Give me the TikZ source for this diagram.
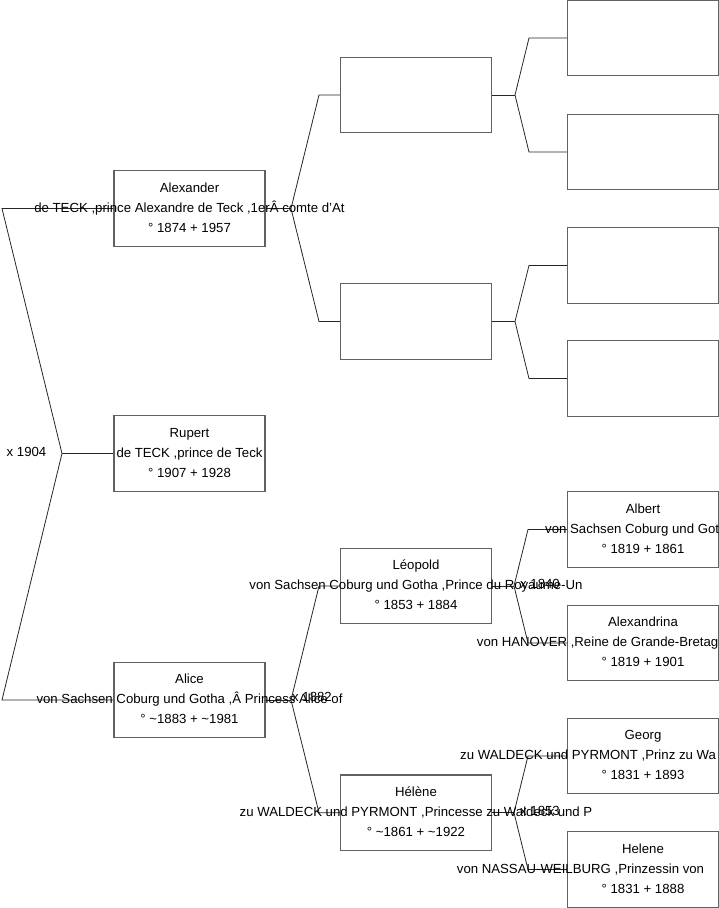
\documentclass[tikz,border=0pt]{standalone}
\usepackage{fontspec}
\setmainfont{Liberation Sans}
\usetikzlibrary{calc}
\tikzset{
  box/.style={draw=black!62, line width=1.1pt, minimum width=151pt, minimum height=75.5pt, inner sep=0pt},
  conn/.style={draw=black!85, line width=0.8pt},
  txt/.style={inner sep=0pt, text height=9.4pt, text depth=0pt, font=\fontsize{13.2}{15}\selectfont},
  lbl/.style={txt}
}
\newcommand{\person}[4]{% box, name, second, dates
  \node[txt] (#1n) at ($(#1.center)+(0,-21)$) {#2};
  \node[txt] (#1s) at ($(#1.center)+(0,-1)$) {#3};
  \node[txt] (#1d) at ($(#1.center)+(0,19)$) {#4};
}
\begin{document}
\begin{tikzpicture}[x=1pt,y=-1pt]
\useasboundingbox (0,0) rectangle (719,908);
\clip (0,0) rectangle (719,908);
% boxes
\node[box] (alex) at (189.5,208.5) {};
\node[box] (rupert) at (189.5,453.5) {};
\node[box] (alice) at (189.5,700) {};
\node[box] (ga) at (416,95) {};
\node[box] (gb) at (416,321.5) {};
\node[box] (leo) at (416,586) {};
\node[box] (hel) at (416,812.7) {};
\node[box] (h1) at (643,38) {};
\node[box] (h2) at (643,152) {};
\node[box] (h3) at (643,265.5) {};
\node[box] (h4) at (643,378.5) {};
\node[box] (albert) at (643,529.5) {};
\node[box] (alexa) at (643,643) {};
\node[box] (georg) at (643,756) {};
\node[box] (helene) at (643,869.5) {};
% left bracket
\coordinate (v0) at (62,453.5);
\coordinate (t0) at (2,208.5);
\coordinate (b0) at (2,700);
\draw[conn] (alex.west) -- (t0) -- (v0) -- (b0) -- (alice.west);
\draw[conn] (v0) -- (rupert.west);
% col1 -> col2 brackets
\coordinate (va) at (291,208.5);
\draw[conn] (alex.east) -- (va);
\draw[conn] (ga.west) -- (319,95) -- (va) -- (319,321.5) -- (gb.west);
\coordinate (vb) at (291,700);
\draw[conn] (alice.east) -- (vb);
\draw[conn] (leo.west) -- (319,586) -- (vb) -- (319,812.7) -- (hel.west);
% col2 -> col3 brackets
\coordinate (vc) at (515,95);
\draw[conn] (ga.east) -- (vc);
\draw[conn] (h1.west) -- (529,38) -- (vc) -- (529,152) -- (h2.west);
\coordinate (vd) at (515,321.5);
\draw[conn] (gb.east) -- (vd);
\draw[conn] (h3.west) -- (529,265.5) -- (vd) -- (529,378.5) -- (h4.west);
\coordinate (ve) at (514,586);
\draw[conn] (leo.east) -- (ve);
\draw[conn] (albert.west) -- (528,529.5) -- (ve) -- (528,643) -- (alexa.west);
\coordinate (vf) at (514,812.7);
\draw[conn] (hel.east) -- (vf);
\draw[conn] (georg.west) -- (528,756) -- (vf) -- (528,869.5) -- (helene.west);
% texts
\person{alex}{Alexander}{de TECK ,prince Alexandre de Teck ,1erÂ comte d'At}{° 1874 + 1957}
\person{rupert}{Rupert}{de TECK ,prince de Teck}{° 1907 + 1928}
\person{alice}{Alice}{von Sachsen Coburg und Gotha ,Â Princess Alice of}{° \textasciitilde1883 + \textasciitilde1981}
\person{leo}{Léopold}{von Sachsen Coburg und Gotha ,Prince du Royaume-Un}{° 1853 + 1884}
\person{hel}{Hélène}{zu WALDECK und PYRMONT ,Princesse zu Waldeck und P}{° \textasciitilde1861 + \textasciitilde1922}
% rows cut by the right edge
\node[txt] (albertn) at ($(albert.center)+(0,-21)$) {Albert};
\node[txt, anchor=west] (alberts) at (545,528.5) {von Sachsen Coburg und Got};
\node[txt] (albertd) at ($(albert.center)+(0,19)$) {° 1819 + 1861};
\node[txt] (alexan) at ($(alexa.center)+(0,-21)$) {Alexandrina};
\node[txt, anchor=west] (alexas) at (476.7,642) {von HANOVER ,Reine de Grande-Bretag};
\node[txt] (alexad) at ($(alexa.center)+(0,19)$) {° 1819 + 1901};
\node[txt] (georgn) at ($(georg.center)+(0,-21)$) {Georg};
\node[txt, anchor=west] (georgs) at (460,755) {zu WALDECK und PYRMONT ,Prinz zu Wa};
\node[txt] (georgd) at ($(georg.center)+(0,19)$) {° 1831 + 1893};
\node[txt] (helenen) at ($(helene.center)+(0,-21)$) {Helene};
\node[txt, anchor=west] (helenes) at (456.7,868.5) {von NASSAU-WEILBURG ,Prinzessin von};
\node[txt] (helened) at ($(helene.center)+(0,19)$) {° 1831 + 1888};
% marriage labels
\node[lbl] (m0) at (26.5,451.5) {x 1904};
\node[lbl] (m1) at (312,697) {x 1882};
\node[lbl] (m2) at (540,584) {x 1840};
\node[lbl] (m3) at (540,810.5) {x 1853};
\end{tikzpicture}
\end{document}
